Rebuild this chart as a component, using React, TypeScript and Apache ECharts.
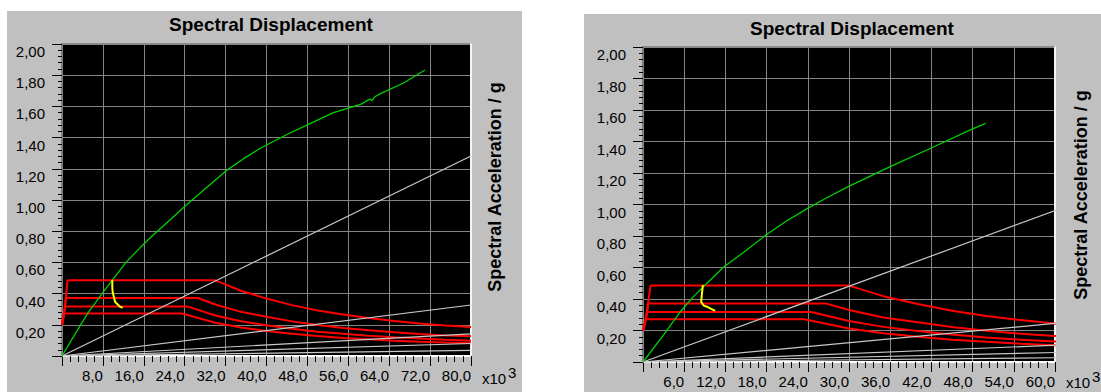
import React, { useEffect, useRef } from "react";
import * as echarts from "echarts";

// ---------- data (Sd in x10^3, Sa in g) ----------
const xTicksLeftMax = 80;
const xTicksLeftStep = 8;
const xTicksRightMax = 60;
const xTicksRightStep = 6;
const yMax = 2.0;
const yStep = 0.2;

// demand spectra (same in both panels)
const demandA: number[][] = [[0, 0.2], [0.5, 0.3], [1.1, 0.485], [30, 0.485], [35, 0.418], [40, 0.368], [45, 0.326], [50, 0.292], [55, 0.266], [60, 0.244], [65, 0.225], [70, 0.209], [75, 0.196], [80, 0.186]];
const demandB: number[][] = [[0, 0.2], [0.4, 0.27], [0.8, 0.372], [26.6, 0.372], [30, 0.33], [35, 0.283], [40, 0.252], [45, 0.222], [50, 0.198], [55, 0.18], [60, 0.165], [65, 0.152], [70, 0.141], [75, 0.132], [80, 0.126]];
const demandC: number[][] = [[0, 0.2], [0.3, 0.25], [0.6, 0.318], [24.5, 0.318], [30, 0.26], [35, 0.223], [40, 0.197], [45, 0.174], [50, 0.156], [55, 0.142], [60, 0.13], [65, 0.12], [70, 0.112], [75, 0.104], [80, 0.098]];
const demandD: number[][] = [[0, 0.2], [0.2, 0.23], [0.4, 0.272], [23.5, 0.272], [30, 0.213], [35, 0.183], [40, 0.16], [45, 0.142], [50, 0.128], [55, 0.116], [60, 0.107], [65, 0.098], [70, 0.091], [75, 0.086], [80, 0.082]];
const demandCurves = [demandA, demandB, demandC, demandD];

// constant-period radial lines
const periodLine1: number[][] = [[0, 0], [80, 1.282]];
const periodLine2: number[][] = [[0, 0], [80, 0.327]];
const periodLine3: number[][] = [[0, 0], [80, 0.142]];
const periodLine4: number[][] = [[0, 0], [80, 0.08]];
const periodLine5: number[][] = [[0, 0], [80, 0.036]];
const periodLines = [periodLine1, periodLine2, periodLine3, periodLine4, periodLine5];

// capacity curves
const capacityLeft: number[][] = [[0, 0], [2.6, 0.143], [5.15, 0.28], [8.3, 0.42], [9.84, 0.487], [12.5, 0.6], [15.3, 0.695], [18, 0.78], [21, 0.868], [24.2, 0.965], [28.3, 1.08], [32, 1.185], [35.5, 1.265], [38.7, 1.33], [44, 1.42], [48.2, 1.485], [53.1, 1.56], [56.2, 1.59], [58.5, 1.615], [60.3, 1.648], [60.6, 1.636], [61.2, 1.662], [62.2, 1.68], [66.8, 1.75], [71, 1.833]];
const capacityRight: number[][] = [[0, 0], [2.97, 0.171], [5.42, 0.319], [7.35, 0.415], [9.3, 0.5], [11.8, 0.605], [15.1, 0.711], [17.9, 0.806], [20.9, 0.895], [23.9, 0.974], [26.9, 1.046], [29.9, 1.113], [36, 1.24], [41.9, 1.357], [48, 1.48], [49.9, 1.515]];

// performance point trajectories
const perfLeft: number[][] = [[9.84, 0.487], [9.84, 0.44], [9.9, 0.412], [10.37, 0.348], [11.35, 0.316], [11.88, 0.31]];
const perfRight: number[][] = [[8.72, 0.489], [8.6, 0.44], [8.47, 0.383], [8.8, 0.36], [9.3, 0.351], [10.5, 0.324]];

const titleText = "Spectral Displacement";
const yTitleText = "Spectral Acceleration / g";

const FONT = "'Liberation Sans', Arial, sans-serif";

function makeXAxis(gridIndex: number, max: number, step: number) {
  return {
    type: "value",
    gridIndex,
    min: 0,
    max,
    interval: step,
    axisLine: { show: true, lineStyle: { color: "#ffffff", width: 2 } },
    axisTick: { show: true, length: 10, lineStyle: { color: "#000" } },
    minorTick: { show: true, splitNumber: 5, length: 6, lineStyle: { color: "#000" } },
    splitLine: { show: true, lineStyle: { color: "#858585", width: 1 } },
    axisLabel: {
      show: true,
      margin: 12,
      align: "right",
      color: "#000",
      fontFamily: FONT,
      fontSize: 15,
      formatter: (v: number) => (v === 0 ? "" : v.toFixed(1).replace(".", ",")),
    },
  };
}

function makeYAxis(gridIndex: number) {
  return {
    type: "value",
    gridIndex,
    min: 0,
    max: yMax,
    interval: yStep,
    axisLine: { show: true, lineStyle: { color: "#808080", width: 2 } },
    axisTick: { show: true, length: 10, lineStyle: { color: "#000" } },
    minorTick: { show: true, splitNumber: 5, length: 4, lineStyle: { color: "#000" } },
    splitLine: { show: true, lineStyle: { color: "#858585", width: 1 } },
    axisLabel: {
      show: true,
      margin: 17,
      verticalAlign: "top",
      color: "#000",
      fontFamily: FONT,
      fontSize: 15,
      formatter: (v: number) => (v === 0 ? "" : v.toFixed(2).replace(".", ",")),
    },
  };
}

function makeRightBorderAxis(gridIndex: number) {
  return {
    type: "value",
    gridIndex,
    position: "right",
    min: 0,
    max: yMax,
    axisLine: { show: true, lineStyle: { color: "#f4f4f4", width: 2 } },
    axisTick: { show: false },
    axisLabel: { show: false },
    splitLine: { show: false },
  };
}

function panelSeries(xi: number, yi: number, capacity: number[][], perf: number[][]) {
  const s: any[] = [];
  demandCurves.forEach((d) =>
    s.push({ type: "line", xAxisIndex: xi, yAxisIndex: yi, data: d, showSymbol: false, symbol: "none", lineStyle: { color: "#ff0000", width: 2 }, z: 3 })
  );
  periodLines.forEach((d) =>
    s.push({ type: "line", xAxisIndex: xi, yAxisIndex: yi, data: d, showSymbol: false, symbol: "none", lineStyle: { color: "#c8c8c8", width: 1.2 }, z: 4 })
  );
  s.push({ type: "line", xAxisIndex: xi, yAxisIndex: yi, data: capacity, showSymbol: false, symbol: "none", lineStyle: { color: "#00d000", width: 1.3 }, z: 5 });
  s.push({ type: "line", xAxisIndex: xi, yAxisIndex: yi, data: perf, showSymbol: false, symbol: "none", lineStyle: { color: "#ffff00", width: 2 }, z: 6 });
  return s;
}

export default function App() {
  const ref = useRef<HTMLDivElement>(null);
  useEffect(() => {
    if (!ref.current) return;
    const chart = echarts.init(ref.current, undefined, { renderer: "svg" });
    const textStyleBold = { fontFamily: FONT, fontWeight: "bold", fill: "#000" };
    const option: any = {
      animation: false,
      backgroundColor: "#ffffff",
      graphic: [
        { type: "rect", z: -10, shape: { x: 7, y: 11, width: 515, height: 381 }, style: { fill: "#c0c0c0" } },
        { type: "rect", z: -10, shape: { x: 584, y: 14, width: 517, height: 378 }, style: { fill: "#c0c0c0" } },
        { type: "text", x: 271, y: 24, style: { ...textStyleBold, text: titleText, fontSize: 19, align: "center", verticalAlign: "middle" } },
        { type: "text", x: 852, y: 28, style: { ...textStyleBold, text: titleText, fontSize: 19, align: "center", verticalAlign: "middle" } },
        { type: "text", x: 495, y: 187, rotation: Math.PI / 2, style: { ...textStyleBold, text: yTitleText, fontSize: 18, align: "center", verticalAlign: "middle" } },
        { type: "text", x: 1081, y: 195, rotation: Math.PI / 2, style: { ...textStyleBold, text: yTitleText, fontSize: 18, align: "center", verticalAlign: "middle" } },
        { type: "text", x: 482, y: 378, style: { text: "x10", fontFamily: FONT, fontSize: 15, fill: "#000", align: "left", verticalAlign: "middle" } },
        { type: "text", x: 508, y: 372, style: { text: "3", fontFamily: FONT, fontSize: 15, fill: "#000", align: "left", verticalAlign: "middle" } },
        { type: "text", x: 1066, y: 382, style: { text: "x10", fontFamily: FONT, fontSize: 15, fill: "#000", align: "left", verticalAlign: "middle" } },
        { type: "text", x: 1092, y: 376, style: { text: "3", fontFamily: FONT, fontSize: 15, fill: "#000", align: "left", verticalAlign: "middle" } },
      ],
      grid: [
        { left: 62, top: 44, width: 409, height: 312, show: true, backgroundColor: "#000000", borderColor: "#8a8a8a", borderWidth: 2 },
        { left: 643, top: 47, width: 412, height: 315, show: true, backgroundColor: "#000000", borderColor: "#8a8a8a", borderWidth: 2 },
      ],
      xAxis: [makeXAxis(0, xTicksLeftMax, xTicksLeftStep), makeXAxis(1, xTicksRightMax, xTicksRightStep)],
      yAxis: [makeYAxis(0), makeRightBorderAxis(0), makeYAxis(1), makeRightBorderAxis(1)],
      series: [...panelSeries(0, 0, capacityLeft, perfLeft), ...panelSeries(1, 2, capacityRight, perfRight)],
    };
    chart.setOption(option);
    return () => chart.dispose();
  }, []);
  return <div ref={ref} style={{ position: "fixed", left: 0, top: 0, width: 1101, height: 392 }} />;
}
